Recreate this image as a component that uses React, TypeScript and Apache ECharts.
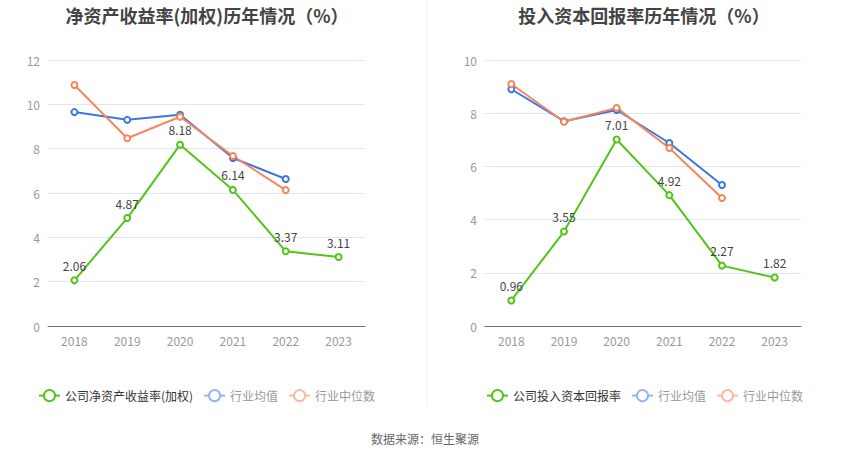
import React, { useEffect, useRef } from "react";
import * as echarts from "echarts";

const years = ["2018", "2019", "2020", "2021", "2022", "2023"];
const roeCompany = [2.06, 4.87, 8.18, 6.14, 3.37, 3.11];
const roeAvg = [9.65, 9.3, 9.53, 7.58, 6.63];
const roeMedian = [10.87, 8.47, 9.44, 7.67, 6.13];
const roicCompany = [0.96, 3.55, 7.01, 4.92, 2.27, 1.82];
const roicAvg = [8.9, 7.7, 8.12, 6.88, 5.3];
const roicMedian = [9.1, 7.68, 8.2, 6.69, 4.81];

const GREEN = "#52c41a";
const BLUE = "#3a78e0";
const ORANGE = "#f7865a";
const BLUE_L = "#96b5f0";
const ORANGE_L = "#f9b9a2";
const FONT = "Noto Sans CJK SC";

function mkSeries(name: string, data: number[], color: string, idx: number, label: boolean) {
  return {
    name,
    type: "line",
    xAxisIndex: idx,
    yAxisIndex: idx,
    data,
    symbol: "emptyCircle",
    symbolSize: 6,
    lineStyle: { width: 2, color },
    itemStyle: { color, borderWidth: 2 },
    label: label
      ? { show: true, position: "top", fontSize: 12, color: "#444", fontFamily: FONT }
      : { show: false },
    z: label ? 3 : 2,
  };
}

function legendData(companyName: string) {
  return [
    { name: companyName, textStyle: { color: "#333" } },
    {
      name: "行业均值",
      itemStyle: { color: BLUE_L, borderColor: BLUE_L },
      lineStyle: { color: BLUE_L },
      textStyle: { color: "#999" },
    },
    {
      name: "行业中位数",
      itemStyle: { color: ORANGE_L, borderColor: ORANGE_L },
      lineStyle: { color: ORANGE_L },
      textStyle: { color: "#999" },
    },
  ];
}

function axes(idx: number, max: number) {
  return {
    x: {
      type: "category",
      gridIndex: idx,
      data: years,
      axisTick: { alignWithLabel: true, lineStyle: { color: "#6e7079" } },
      axisLine: { lineStyle: { color: "#6e7079" } },
      axisLabel: { color: "#999", fontSize: 12, fontFamily: FONT },
    },
    y: {
      type: "value",
      gridIndex: idx,
      min: 0,
      max,
      interval: 2,
      axisLabel: { color: "#999", fontSize: 12, fontFamily: FONT },
      splitLine: { lineStyle: { color: "#e0e6f1" } },
    },
  };
}

export default function App() {
  const ref = useRef<HTMLDivElement>(null);
  useEffect(() => {
    if (!ref.current) return;
    const chart = echarts.init(ref.current, null, { renderer: "svg" });
    const a0 = axes(0, 12);
    const a1 = axes(1, 10);
    chart.setOption({
      animation: false,
      textStyle: { fontFamily: FONT },
      title: [
        {
          text: "净资产收益率(加权)历年情况（%）",
          left: 202,
          top: 1,
          textAlign: "center",
          textStyle: { fontSize: 18, fontWeight: "bold", color: "#444", fontFamily: FONT },
        },
        {
          text: "投入资本回报率历年情况（%）",
          left: 639,
          top: 1,
          textAlign: "center",
          textStyle: { fontSize: 18, fontWeight: "bold", color: "#444", fontFamily: FONT },
        },
      ],
      legend: [
        {
          left: 33,
          top: 384,
          itemGap: 10,
          itemWidth: 21,
          textStyle: { fontSize: 12, fontFamily: FONT },
          data: legendData("公司净资产收益率(加权)"),
        },
        {
          left: 481,
          top: 384,
          itemGap: 10,
          itemWidth: 21,
          textStyle: { fontSize: 12, fontFamily: FONT },
          data: legendData("公司投入资本回报率"),
        },
      ],
      grid: [
        { left: 48, right: 485, top: 60, bottom: 133 },
        { left: 485, right: 49, top: 60, bottom: 133 },
      ],
      xAxis: [a0.x, a1.x],
      yAxis: [a0.y, a1.y],
      series: [
        mkSeries("公司净资产收益率(加权)", roeCompany, GREEN, 0, true),
        mkSeries("行业均值", roeAvg, BLUE, 0, false),
        mkSeries("行业中位数", roeMedian, ORANGE, 0, false),
        mkSeries("公司投入资本回报率", roicCompany, GREEN, 1, true),
        mkSeries("行业均值", roicAvg, BLUE, 1, false),
        mkSeries("行业中位数", roicMedian, ORANGE, 1, false),
      ],
      graphic: [
        {
          type: "line",
          shape: { x1: 427, y1: 0, x2: 427, y2: 405 },
          style: { stroke: "#eeeeee", lineWidth: 1 },
        },
        {
          type: "text",
          x: 425,
          y: 438,
          style: {
            text: "数据来源：恒生聚源",
            fill: "#666",
            fontSize: 12,
            fontFamily: FONT,
            align: "center",
            verticalAlign: "middle",
          },
        },
      ],
    });
    return () => chart.dispose();
  }, []);
  return (
    <div
      ref={ref}
      style={{ position: "fixed", left: 0, top: 0, width: 850, height: 459, background: "#fff" }}
    />
  );
}
